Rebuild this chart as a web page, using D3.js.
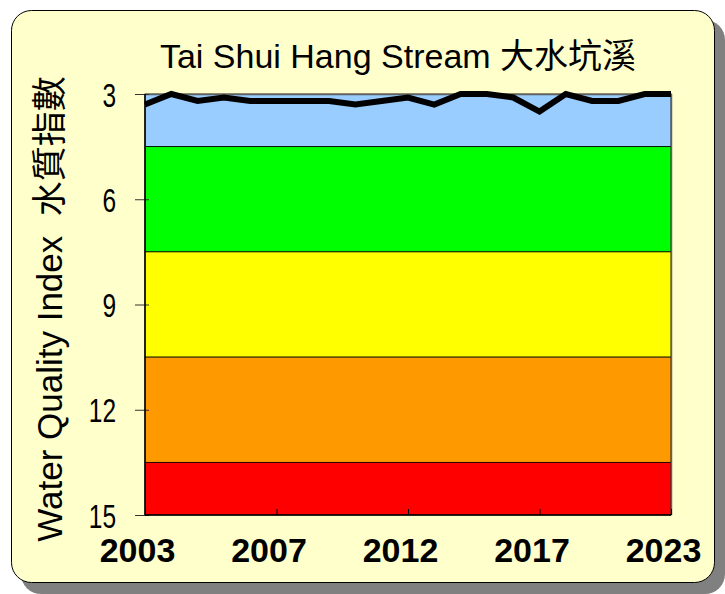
<!DOCTYPE html>
<html><head><meta charset="utf-8">
<script src="https://cdn.jsdelivr.net/npm/d3@7"></script>
<style>body{margin:0;background:#fff}svg{display:block}</style>
</head><body>
<svg id="c" width="725" height="594"></svg>
<script>
const years = ["2003","2004","2005","2006","2007","2008","2009","2010","2011","2012","2013","2014","2015","2016","2017","2018","2019","2020","2021","2022","2023"];
const wqi = [3.3,3.0,3.2,3.1,3.2,3.2,3.2,3.2,3.3,3.2,3.1,3.3,3.0,3.0,3.1,3.5,3.0,3.2,3.2,3.0,3.0];
const tickIndex = [0,5,10,15,20];
const tickLabels = ["2003","2007","2012","2017","2023"];
const yTicks = [3,6,9,12,15];
const bandEdges = [3,4.5,7.5,10.5,13.5,15];
const bandColors = ["#99CCFF","#00FF00","#FFFF00","#FF9900","#FF0000"];
const title = "Tai Shui Hang Stream 大水坑溪";
const yTitle = "Water Quality Index  水質指數";

const svg = d3.select("#c");
const L=145,R=671,T=94,B=515;
// frame + shadow
svg.append("rect").attr("x",21).attr("y",20).attr("width",704).attr("height",574).attr("rx",20).attr("fill","#808080");
svg.append("rect").attr("x",11.5).attr("y",10.5).attr("width",703).attr("height",572).attr("rx",20)
  .attr("fill","#FFFFCC").attr("stroke","#000").attr("stroke-width",1);

const x = d3.scaleLinear().domain([0,years.length-1]).range([L,R]);
const y = d3.scaleLinear().domain([3,15]).range([T,B]);

const bands = bandColors.map((c,i)=>({c,a:bandEdges[i],b:bandEdges[i+1]}));
svg.append("g").selectAll("rect").data(bands).join("rect")
  .attr("x",L).attr("width",R-L).attr("y",d=>y(d.a)).attr("height",d=>y(d.b)-y(d.a))
  .attr("fill",d=>d.c).attr("stroke","#000").attr("stroke-width",0.8);
// top/right gray border
svg.append("path").attr("d",`M${L},${T+0.5}H${R+0.5}V${B}`).attr("fill","none").attr("stroke","#606060").attr("stroke-width",1.5);

// y axis
const ya = svg.append("g").attr("transform",`translate(${L},0)`)
  .call(d3.axisLeft(y).tickValues(yTicks).tickSize(10).tickPadding(0).tickFormat(d3.format("d")));
ya.select(".domain").remove();
ya.selectAll(".tick line").attr("x2",-10).attr("x1",4).attr("stroke","#333");
ya.selectAll(".tick text").remove();
ya.selectAll(".tick").append("text")
  .attr("transform","translate(-29,0) scale(0.72,1)")
  .attr("text-anchor","end").attr("dy","0.36em").attr("fill","#000")
  .style("font","34px 'Liberation Sans', Arial, sans-serif")
  .text(d=>d);
svg.append("line").attr("x1",L).attr("x2",L).attr("y1",T).attr("y2",B).attr("stroke","#000").attr("stroke-width",1.5);

// x axis
const xa = svg.append("g").attr("transform",`translate(0,${B})`)
  .call(d3.axisBottom(x).tickValues(tickIndex).tickSize(0).tickFormat((d,i)=>tickLabels[i]));
xa.select(".domain").remove();
xa.selectAll(".tick line").attr("y2",-6).attr("stroke","#000");
xa.selectAll(".tick text").attr("y",0).attr("dy",0).attr("transform","translate(-8,47)")
  .attr("fill","#000").style("font","bold 34px 'Liberation Sans', Arial, sans-serif");
svg.append("line").attr("x1",L).attr("x2",R).attr("y1",B).attr("y2",B).attr("stroke","#000").attr("stroke-width",1.5);

// line
svg.append("path").datum(wqi)
  .attr("d",d3.line().x((d,i)=>x(i)).y(d=>y(d)))
  .attr("fill","none").attr("stroke","#000").attr("stroke-width",6).attr("stroke-linejoin","miter");

// titles
svg.append("text").attr("x",398).attr("y",68).attr("text-anchor","middle")
  .style("font","34px 'Liberation Sans', Arial, 'Noto Sans CJK TC', sans-serif").text(title);
svg.append("text").attr("transform","translate(62,309) rotate(-90)").attr("text-anchor","middle")
  .style("font","35px 'Liberation Sans', Arial, 'Noto Sans CJK TC', sans-serif").style("white-space","pre").text(yTitle);
</script>
</body></html>
